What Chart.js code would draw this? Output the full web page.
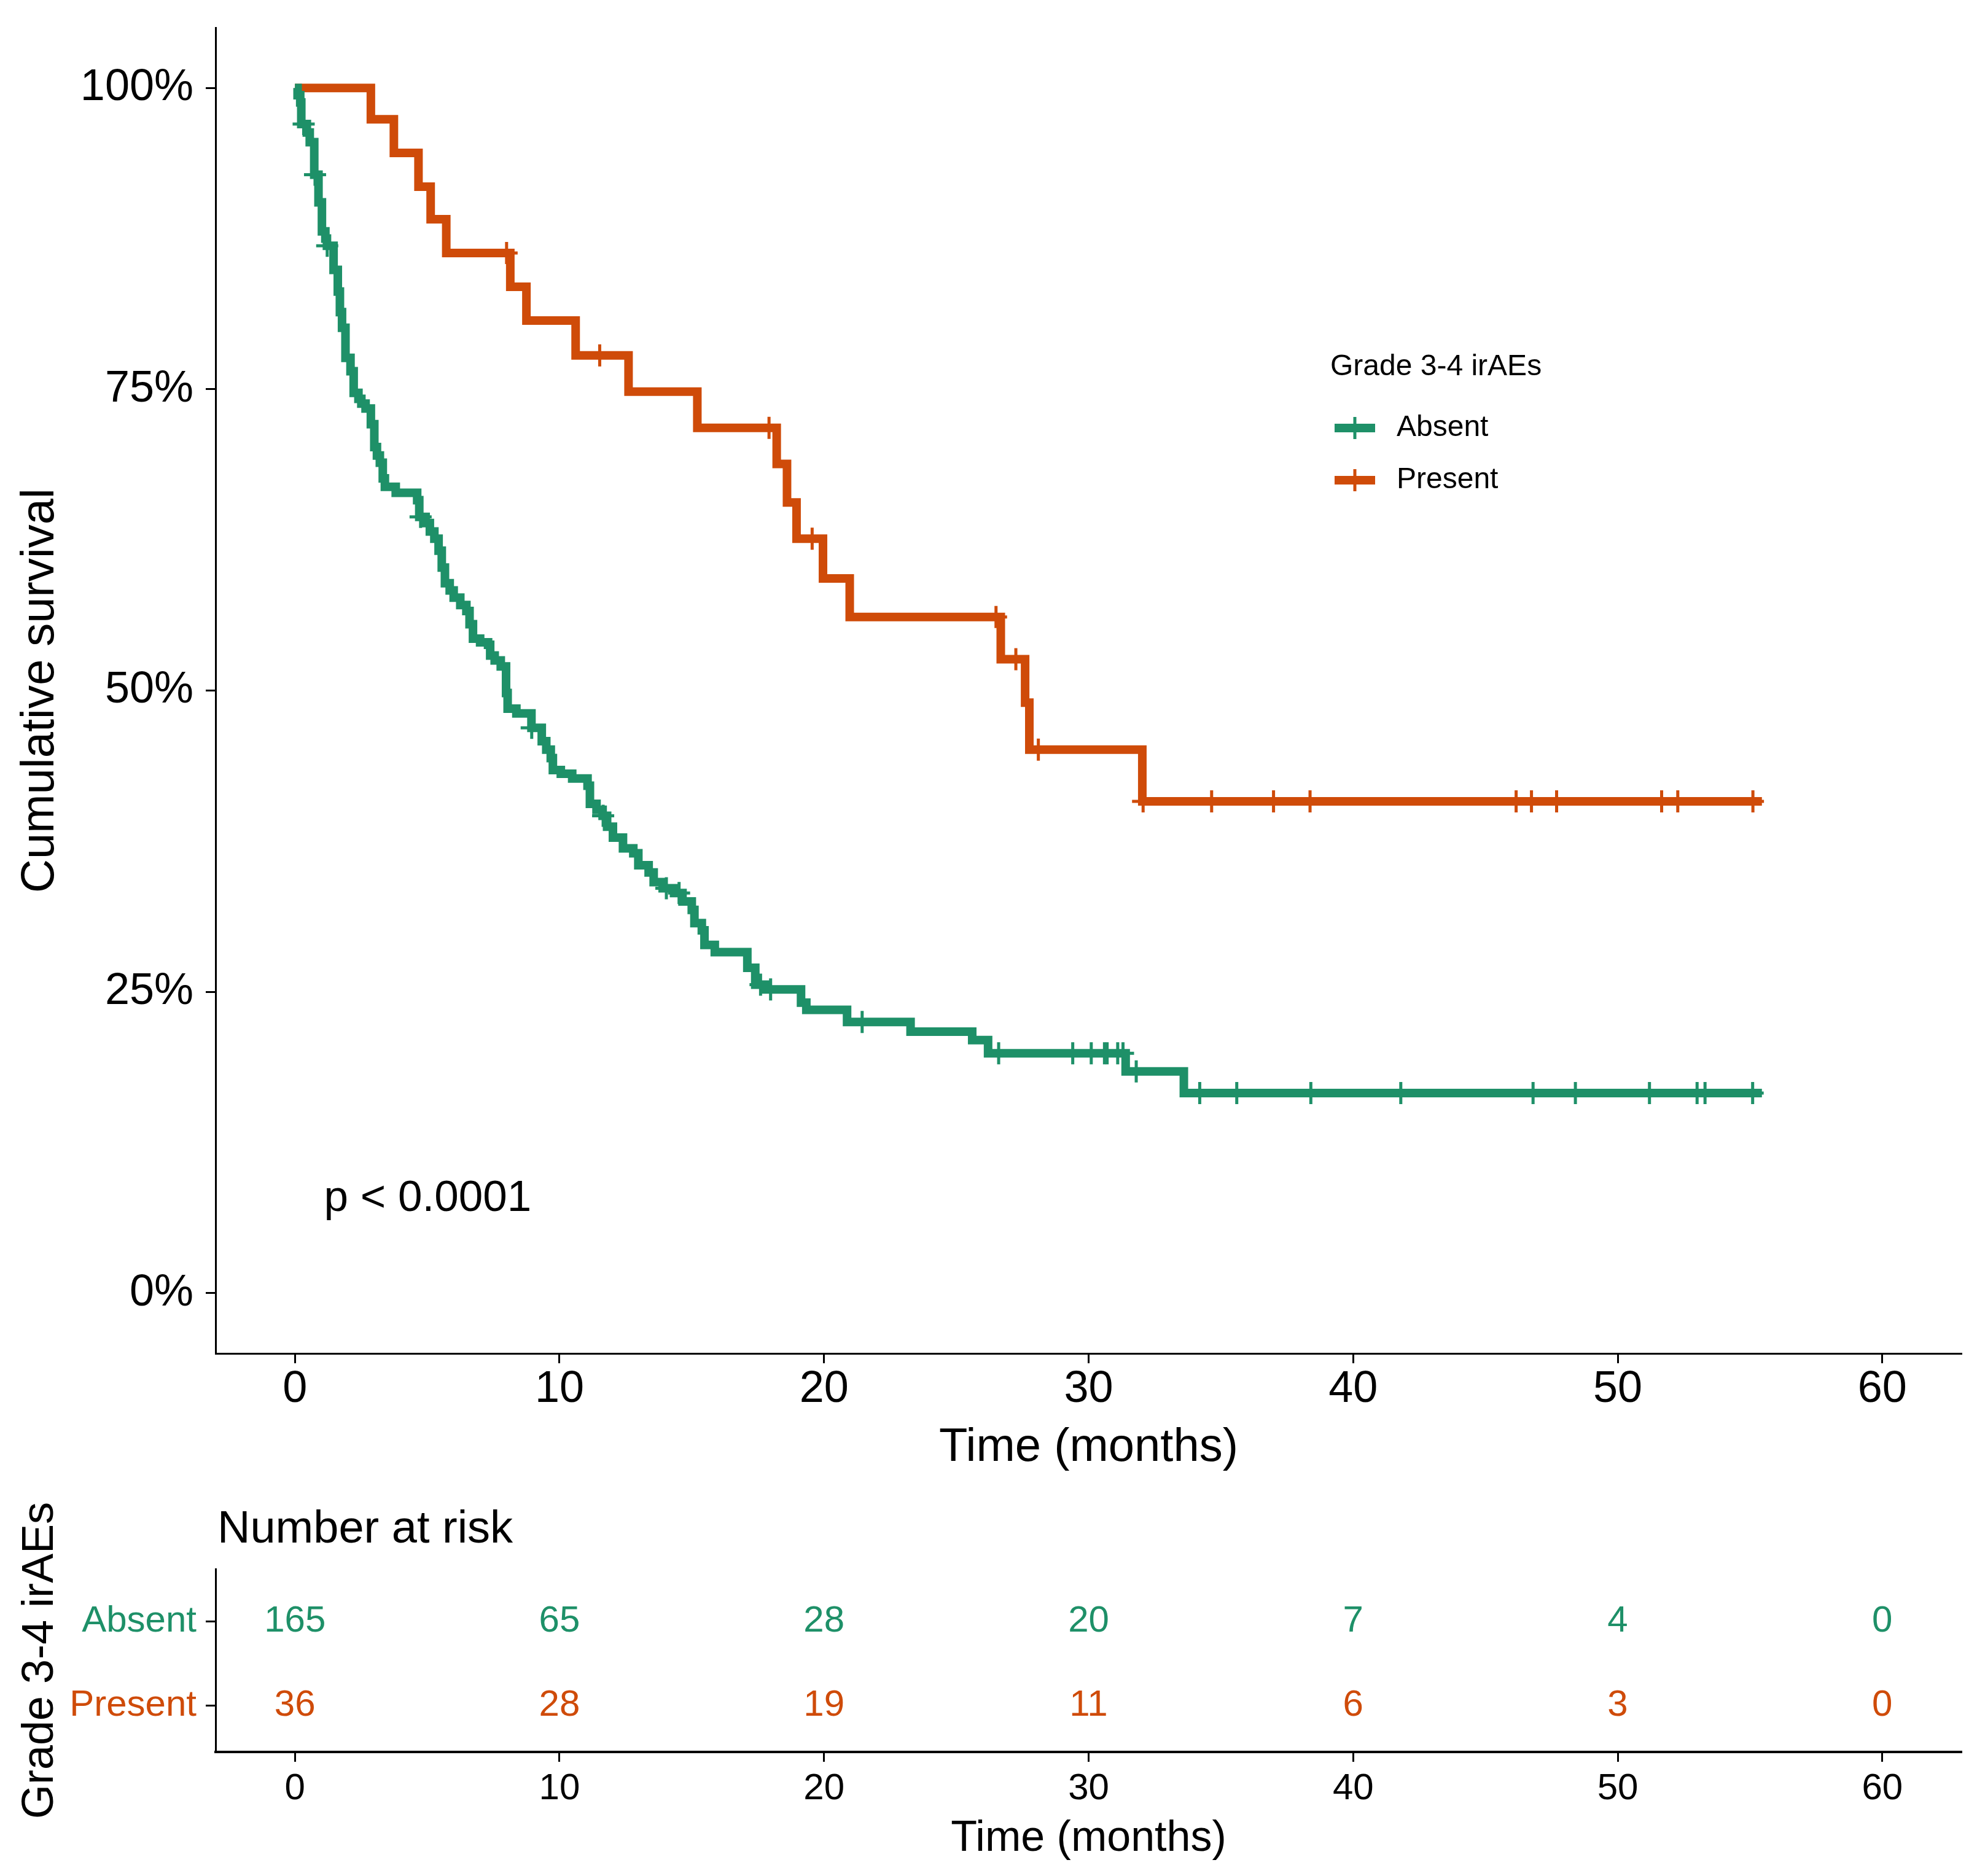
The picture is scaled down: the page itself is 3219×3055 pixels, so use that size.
<!DOCTYPE html>
<html>
<head>
<meta charset="utf-8">
<script src="https://cdn.jsdelivr.net/npm/chart.js@4.4.1/dist/chart.umd.min.js"></script>
<style>
  html, body { margin: 0; padding: 0; background: #fff; }
  #wrap { position: relative; width: 3219px; height: 3055px; }
  #kmBox { position: absolute; left: 0; top: 0; width: 3219px; height: 2420px; }
  #riskBox { position: absolute; left: 0; top: 2420px; width: 3219px; height: 635px; }
</style>
</head>
<body>
<div id="wrap">
  <div id="kmBox"><canvas id="kmChart"></canvas></div>
  <div id="riskBox"><canvas id="riskChart"></canvas></div>
</div>
<script>
// Curva de sobrevida - Grade 3-4 irAEs
const FONT = "'Liberation Sans', Arial, sans-serif"

const groupNames = ['Absent', 'Present']
const groupColors = ['#1e9068', '#cf4b09']

// Absent: tempos dos degraus (meses) e sobrevida (%)
var absentTime = [0, 0.10, 0.20, 0.24, 0.45, 0.56, 0.73, 0.89, 1.02, 1.15, 1.21, 1.46, 1.62, 1.70, 1.78, 1.91, 2.10, 2.22, 2.40, 2.51,
    2.67, 2.87, 3.00, 3.10, 3.21, 3.32, 3.40, 3.81, 4.62, 4.70, 4.94, 5.10, 5.27, 5.43, 5.55, 5.67, 5.85, 6.00, 6.25, 6.48,
    6.60, 6.73, 7.00, 7.30, 7.38, 7.55, 7.78, 7.98, 8.04, 8.37, 8.94, 9.33, 9.50, 9.67, 9.75, 10.05, 10.48, 11.06, 11.15, 11.40,
    11.63, 11.80, 12.02, 12.40, 12.79, 12.98, 13.37, 13.56, 13.90, 14.33, 14.65, 15.00, 15.10, 15.38, 15.48, 15.87, 17.10, 17.40, 17.79, 19.13,
    19.33, 20.87, 23.27, 25.60, 26.20, 31.40, 33.60, 55.45]
var absentSurv = [100, 99.4, 98.8, 97.0, 96.3, 95.5, 92.8, 90.5, 88.1, 87.5, 86.9, 84.9, 83.1, 81.4, 80.1, 77.6, 76.5, 74.7, 74.2, 73.8,
    73.4, 72.1, 70.2, 69.5, 68.9, 67.6, 66.9, 66.4, 65.8, 64.4, 63.9, 63.2, 62.6, 61.6, 60.2, 58.9, 58.3, 57.7, 57.1, 56.6,
    55.5, 54.3, 54.0, 53.8, 52.9, 52.5, 52.0, 49.8, 48.5, 48.1, 46.9, 45.8, 45.1, 44.4, 43.4, 43.1, 42.7, 42.1, 40.6, 40.1,
    39.6, 38.7, 37.8, 36.9, 36.5, 35.5, 34.9, 34.1, 33.6, 33.2, 32.5, 31.8, 30.7, 30.1, 28.9, 28.3, 27.0, 25.6, 25.2, 24.1,
    23.5, 22.5, 21.7, 21.0, 19.9, 18.4, 16.6, 16.6]
var absentCensor = [0.33, 0.76, 1.22, 4.75, 8.95, 11.65, 14.04, 14.52, 17.6, 17.98, 21.44, 26.6, 29.4, 30.1, 30.6, 30.7, 31.1, 31.3,
    31.8, 34.2, 35.6, 38.4, 41.8, 46.8, 48.4, 51.2, 53.0, 53.3, 55.1]

// Present
var presentTime = [0, 2.87, 3.74, 4.67, 5.13, 5.72, 8.14, 8.75, 10.61, 12.61, 15.21, 18.21, 18.60, 18.96, 19.96, 20.97, 26.68, 27.60, 27.76, 32.03, 55.45]
var presentSurv = [100, 97.4, 94.6, 91.8, 89.1, 86.3, 83.5, 80.7, 77.8, 74.8, 71.8, 68.8, 65.6, 62.6, 59.3, 56.1, 52.6, 49.0, 45.1, 40.8, 40.8]
var presentCensor = [8.0, 11.52, 17.92, 19.55, 26.5, 27.25, 28.1, 32.06, 34.65, 36.99, 38.37, 46.16, 46.74, 47.69, 51.66, 52.27, 55.11]

var xTicks = [0, 10, 20, 30, 40, 50, 60]
var yTicks = [0, 25, 50, 75, 100]

// Number at risk
var riskTimes = [0, 10, 20, 30, 40, 50, 60]
var riskAbsent = [165, 65, 28, 20, 7, 4, 0]
var riskPresent = [36, 28, 19, 11, 6, 3, 0]

var pvalText = 'p < 0.0001'
var pvalPos = [1.1, 7.8]

function pontos(times, surv) {
    return times.map((t, i) => ({ x: t, y: surv[i] }))
}
function survNoTempo(times, surv, t) {
    var s = surv[0]
    for (var i = 0; i < times.length; i++) {
        if (times[i] <= t) s = surv[i]
    }
    return s
}
function censuras(times, surv, cens) {
    return cens.map(t => ({ x: t, y: survNoTempo(times, surv, t) }))
}

function linhaKM(times, surv, cor) {
    return {
        type: 'line',
        data: pontos(times, surv),
        borderColor: cor,
        borderWidth: 14,
        stepped: true,
        pointRadius: 0,
        borderCapStyle: 'butt',
        borderJoinStyle: 'miter',
        fill: false
    }
}
function marcasKM(times, surv, cens, cor) {
    return {
        type: 'scatter',
        data: censuras(times, surv, cens),
        pointStyle: 'cross',
        pointRadius: 18,
        pointBorderWidth: 5,
        borderColor: cor,
        backgroundColor: cor
    }
}

// tira o padding extra que o Chart.js reserva pros labels
function semPadding(s) {
    s.paddingTop = 0
    s.paddingBottom = 0
    s.paddingLeft = 0
    s.paddingRight = 0
}

const legendaKM = {
    id: 'legendaKM',
    afterDraw(chart) {
        const c = chart.ctx
        c.save()
        c.font = '48px ' + FONT
        c.fillStyle = '#000'
        c.textBaseline = 'middle'
        c.textAlign = 'left'
        c.fillText('Grade 3-4 irAEs', 2166, 598)
        groupNames.forEach((nome, i) => {
            const y = 697 + i * 85
            c.strokeStyle = groupColors[i]
            c.lineCap = 'butt'
            c.lineWidth = 14
            c.beginPath(); c.moveTo(2173, y); c.lineTo(2239, y); c.stroke()
            c.lineWidth = 5
            c.beginPath(); c.moveTo(2206, y - 18); c.lineTo(2206, y + 18); c.stroke()
            c.fillStyle = '#000'
            c.fillText(nome, 2274, y)
        })
        // valor p
        c.font = '71px ' + FONT
        c.fillText(pvalText, chart.scales.x.getPixelForValue(pvalPos[0]), chart.scales.y.getPixelForValue(pvalPos[1]))
        c.restore()
    }
}

const ctx = document.getElementById('kmChart')
var chartKM = new Chart(ctx, {
    type: 'line',
    data: {
        datasets: [
            linhaKM(absentTime, absentSurv, groupColors[0]),
            linhaKM(presentTime, presentSurv, groupColors[1]),
            marcasKM(absentTime, absentSurv, absentCensor, groupColors[0]),
            marcasKM(presentTime, presentSurv, presentCensor, groupColors[1])
        ]
    },
    options: {
        responsive: true,
        maintainAspectRatio: false,
        animation: false,
        devicePixelRatio: 1,
        layout: { padding: { top: 45, right: 25, left: 0, bottom: 0 } },
        plugins: { legend: { display: false }, tooltip: { enabled: false } },
        scales: {
            x: {
                type: 'linear', min: -3, max: 63,
                afterBuildTicks: s => { s.ticks = xTicks.map(v => ({ value: v })) },
                afterFit: s => { s.height = 216; semPadding(s) },
                grid: { drawOnChartArea: false, drawTicks: true, tickLength: 16, tickWidth: 3, tickColor: '#000' },
                border: { display: true, color: '#000', width: 3 },
                ticks: { color: '#000', font: { family: FONT, size: 72 }, padding: 0, maxRotation: 0, autoSkip: false },
                title: { display: true, text: 'Time (months)', color: '#000', font: { family: FONT, size: 76 }, padding: 16 }
            },
            y: {
                type: 'linear', min: -5, max: 105,
                afterBuildTicks: s => { s.ticks = yTicks.map(v => ({ value: v })) },
                afterFit: s => { s.width = 351; semPadding(s) },
                grid: { drawOnChartArea: false, drawTicks: true, tickLength: 16, tickWidth: 3, tickColor: '#000' },
                border: { display: true, color: '#000', width: 3 },
                ticks: { color: '#000', font: { family: FONT, size: 72 }, padding: 20, callback: v => v + '%' },
                title: { display: true, text: 'Cumulative survival', color: '#000', font: { family: FONT, size: 76 }, padding: 20 }
            }
        }
    },
    plugins: [legendaKM]
})

// Tabela de risco
const textoRisco = {
    id: 'textoRisco',
    afterDatasetsDraw(chart) {
        const c = chart.ctx
        c.save()
        c.textAlign = 'center'
        c.textBaseline = 'middle'
        c.font = '60px ' + FONT
        chart.data.datasets.forEach((ds, i) => {
            const meta = chart.getDatasetMeta(i)
            c.fillStyle = groupColors[i]
            meta.data.forEach((pt, j) => {
                c.fillText(String(ds.data[j].n), pt.x, pt.y)
            })
        })
        c.textAlign = 'left'
        c.fillStyle = '#000'
        c.font = '74px ' + FONT
        c.fillText('Number at risk', 354, 72)
        c.restore()
    }
}

const ctx2 = document.getElementById('riskChart')
var chartRisk = new Chart(ctx2, {
    type: 'scatter',
    data: {
        datasets: [
            { label: groupNames[0], data: riskTimes.map((t, i) => ({ x: t, y: 2, n: riskAbsent[i] })), pointRadius: 0 },
            { label: groupNames[1], data: riskTimes.map((t, i) => ({ x: t, y: 1, n: riskPresent[i] })), pointRadius: 0 }
        ]
    },
    options: {
        responsive: true,
        maintainAspectRatio: false,
        animation: false,
        devicePixelRatio: 1,
        layout: { padding: { top: 135, right: 25, left: 0, bottom: 0 } },
        plugins: { legend: { display: false }, tooltip: { enabled: false } },
        scales: {
            x: {
                type: 'linear', min: -3, max: 63,
                afterBuildTicks: s => { s.ticks = riskTimes.map(v => ({ value: v })) },
                afterFit: s => { s.height = 202; semPadding(s) },
                grid: { drawOnChartArea: false, drawTicks: true, tickLength: 16, tickWidth: 3, tickColor: '#000' },
                border: { display: true, color: '#000', width: 4 },
                ticks: { color: '#000', font: { family: FONT, size: 60 }, padding: 8, maxRotation: 0, autoSkip: false },
                title: { display: true, text: 'Time (months)', color: '#000', font: { family: FONT, size: 70 }, padding: 18 }
            },
            y: {
                type: 'linear', min: 0.45, max: 2.62,
                afterBuildTicks: s => { s.ticks = [{ value: 1 }, { value: 2 }] },
                afterFit: s => { s.width = 351; semPadding(s) },
                grid: { drawOnChartArea: false, drawTicks: true, tickLength: 16, tickWidth: 3, tickColor: '#000' },
                border: { display: true, color: '#000', width: 3 },
                ticks: {
                    font: { family: FONT, size: 60 }, padding: 15,
                    color: c => (c.tick && c.tick.value === 2) ? groupColors[0] : groupColors[1],
                    callback: v => v === 2 ? groupNames[0] : groupNames[1]
                },
                title: { display: true, text: 'Grade 3-4 irAEs', color: '#000', font: { family: FONT, size: 72 }, padding: 23 }
            }
        }
    },
    plugins: [textoRisco]
})
</script>
</body>
</html>
